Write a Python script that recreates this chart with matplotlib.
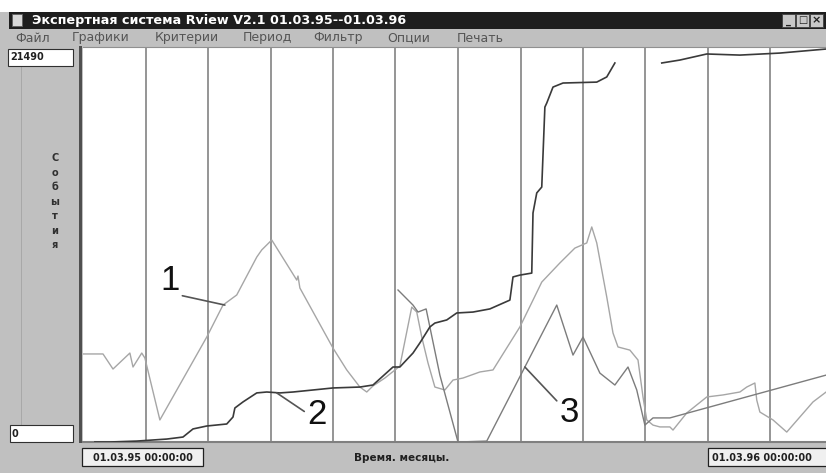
import matplotlib.pyplot as plt
from matplotlib.patches import Rectangle
import numpy as np

W, H = 826, 473

# series 1 (light gray)
months_1 = [0.00, 0.32, 0.48, 0.75, 0.80, 0.94, 0.99, 1.23, 1.98, 2.24, 2.46, 2.78, 2.86, 3.02,
            3.42, 3.44, 3.47, 4.00, 4.22, 4.43, 4.54, 4.64, 4.83, 5.07, 5.26, 5.34, 5.42, 5.52,
            5.63, 5.79, 5.92, 6.08, 6.35, 6.56, 6.99, 7.20, 7.34, 7.63, 7.87, 8.06, 8.14, 8.22,
            8.38, 8.48, 8.56, 8.75, 8.88, 8.96, 9.02, 9.12, 9.23, 9.39, 9.44, 9.66, 9.98, 10.24,
            10.51, 10.62, 10.75, 10.78, 10.83, 11.04, 11.26, 11.47, 11.68, 11.89]
events_1 = [4790, 4790, 3970, 4840, 4080, 4840, 4570, 1200, 5710, 7450, 8000, 10060, 10450, 10990,
            8810, 9030, 8380, 5110, 3920, 2990, 2720, 3050, 3480, 4130, 7340, 7070, 5710, 4300,
            2990, 2830, 3370, 3480, 3810, 3920, 6260, 7720, 8700, 9740, 10550, 10830, 11700, 10830,
            7890, 5930, 5170, 5000, 4460, 2450, 1200, 920, 820, 820, 650, 1580, 2450, 2560,
            2720, 2990, 3210, 2280, 1630, 1200, 540, 1360, 2180, 2720]

# series 2 (dark), gap in the record around month 9
months_2 = [0.19, 0.43, 0.86, 1.34, 1.60, 1.76, 1.98, 2.30, 2.40, 2.43, 2.56, 2.78, 2.94, 3.15,
            3.36, 4.00, 4.43, 4.64, 4.96, 5.07, 5.28, 5.39, 5.55, 5.63, 5.82, 5.98, 6.24, 6.51,
            6.83, 6.88, 6.99, 7.18, 7.20, 7.26, 7.34, 7.39, 7.42, 7.52, 7.68, 8.22, 8.38, 8.51,
            8.90, 9.26, 9.55, 9.98, 10.51, 11.15, 11.89]
events_2 = [0, 0, 50, 160, 270, 710, 870, 980, 1360, 1850, 2180, 2670, 2720, 2670,
            2720, 2940, 2990, 3100, 4080, 4080, 4840, 5390, 6260, 6470, 6640, 7020, 7070, 7240,
            7720, 8980, 9080, 9190, 12460, 13550, 13870, 18220, 18440, 19310, 19530, 19580, 19860, 20620,
            np.nan, 20620, 20780, 21110, 21050, 21160, 21380]

# series 3 (medium gray)
months_3 = [5.04, 5.28, 5.36, 5.49, 5.71, 6.00, 6.46, 7.58, 7.84, 8.00, 8.27, 8.51, 8.72, 8.86,
            8.99, 9.12, 9.39, 11.89]
events_3 = [8270, 7450, 7070, 7240, 3640, 0, 50, 7450, 4730, 5710, 3750, 3100, 4080, 2830,
            920, 1310, 1310, 3640]

y_max = 21490
x_max = 11.888
month_lines = list(range(1, 12))

# number labels: text position and the point on the curve
tags = ['1', '2', '3']
tag_xy = [(2.27, 7450), (3.10, 2670), (7.07, 4080)]
tag_text = [(1.39, 8810), (3.74, 1470), (7.78, 1630)]
tag_rel = [(0.95, 0.05), (0.0, 0.55), (0.0, 0.75)]

menu = ['Файл', 'Графики', 'Критерии', 'Период', 'Фильтр', 'Опции', 'Печать']
menu_x = [15, 72, 155, 243, 313, 387, 457]

GRAY = '#c0c0c0'

fig = plt.figure(figsize=(W / 100, H / 100), dpi=100)
fig.patch.set_facecolor(GRAY)


def box(x0, y0, x1, y1, fc, ec='none', lw=0, z=1):
    fig.add_artist(Rectangle((x0 / W, 1 - y1 / H), (x1 - x0) / W, (y1 - y0) / H,
                             transform=fig.transFigure, facecolor=fc, edgecolor=ec,
                             linewidth=lw, zorder=z))


def label(x, y, s, **kw):
    fig.text(x / W, 1 - y / H, s, **kw)


# window chrome
box(0, 0, W, 12, 'white')
box(9, 12, W, 29, '#1e1e1e')
box(12, 14, 22, 26, '#d8d8d8', '#606060', 0.6)
label(32, 20.5, 'Экспертная система Rview V2.1 01.03.95--01.03.96', color='white',
      fontsize=9.2, fontweight='bold', va='center', family='DejaVu Sans')
for bx in [782, 796, 810]:
    box(bx, 14, bx + 13, 27, '#c8c8c8', '#404040', 0.6, z=2)
label(788.5, 21, '_', fontsize=7, fontweight='bold', ha='center', va='center', color='#202020')
label(802.5, 20.5, '□', fontsize=7, fontweight='bold', ha='center', va='center', color='#202020')
label(816.5, 20.5, '×', fontsize=8, fontweight='bold', ha='center', va='center', color='#202020')

for name, mx in zip(menu, menu_x):
    label(mx, 38, name, fontsize=9, color='#555555', va='center', family='DejaVu Sans')

# left panel
box(21, 66, 22.2, 443, '#a8a8a8')
box(79, 46, 82, 443, '#505050')
box(8, 49, 73, 66, 'white', '#303030', 0.8)
label(10, 57.5, '21490', fontsize=7, fontweight='bold', va='center', color='#202020')
box(10, 425, 73, 442, 'white', '#303030', 0.8)
label(12, 434, '0', fontsize=7, fontweight='bold', va='center', color='#202020')
for i, ch in enumerate('События'):
    label(55, 158 + i * 14.5, ch, fontsize=7, fontweight='bold', ha='center', va='center',
          color='#303030')

# bottom bar
box(82, 448, 203, 466, '#f0f0f0', '#202020', 0.9)
label(142.5, 457.5, '01.03.95 00:00:00', fontsize=7, fontweight='bold', ha='center',
      va='center', color='#202020')
box(708, 448, 832, 466, '#f0f0f0', '#202020', 0.9)
label(712, 457.5, '01.03.96 00:00:00', fontsize=7, fontweight='bold', ha='left',
      va='center', color='#202020')
label(402, 458, 'Время. месяцы.', fontsize=7.5, fontweight='bold', ha='center',
      va='center', color='#202020')

# plot area
ax = fig.add_axes([83 / W, 1 - 442 / H, 743 / W, 395 / H])
ax.set_facecolor('white')
ax.set_xlim(0, x_max)
ax.set_ylim(0, y_max)
ax.set_xticks(month_lines)
ax.set_yticks([])
ax.tick_params(length=0, labelbottom=False)
ax.grid(axis='x', color='#959595', linewidth=1.4)
for side in ['left', 'right']:
    ax.spines[side].set_visible(False)
ax.spines['top'].set_color('#909090')
ax.spines['bottom'].set_color('#808080')
ax.spines['bottom'].set_linewidth(1.5)

ax.plot(months_1, events_1, color='#a6a6a6', linewidth=1.0, zorder=3)
ax.plot(months_3, events_3, color='#7c7c7c', linewidth=1.0, zorder=3)
ax.plot(months_2, events_2, color='#3a3a3a', linewidth=1.2, zorder=4)

for t, xy, xt, rp in zip(tags, tag_xy, tag_text, tag_rel):
    ax.annotate(t, xy=xy, xytext=xt, ha='center', va='center', fontsize=25,
                family='Liberation Sans', color='#111111', zorder=5,
                arrowprops=dict(arrowstyle='-', color='#555555', lw=1.2,
                                shrinkA=0, shrinkB=0, relpos=rp))

fig.savefig('out.png', dpi=100, facecolor=fig.get_facecolor())
